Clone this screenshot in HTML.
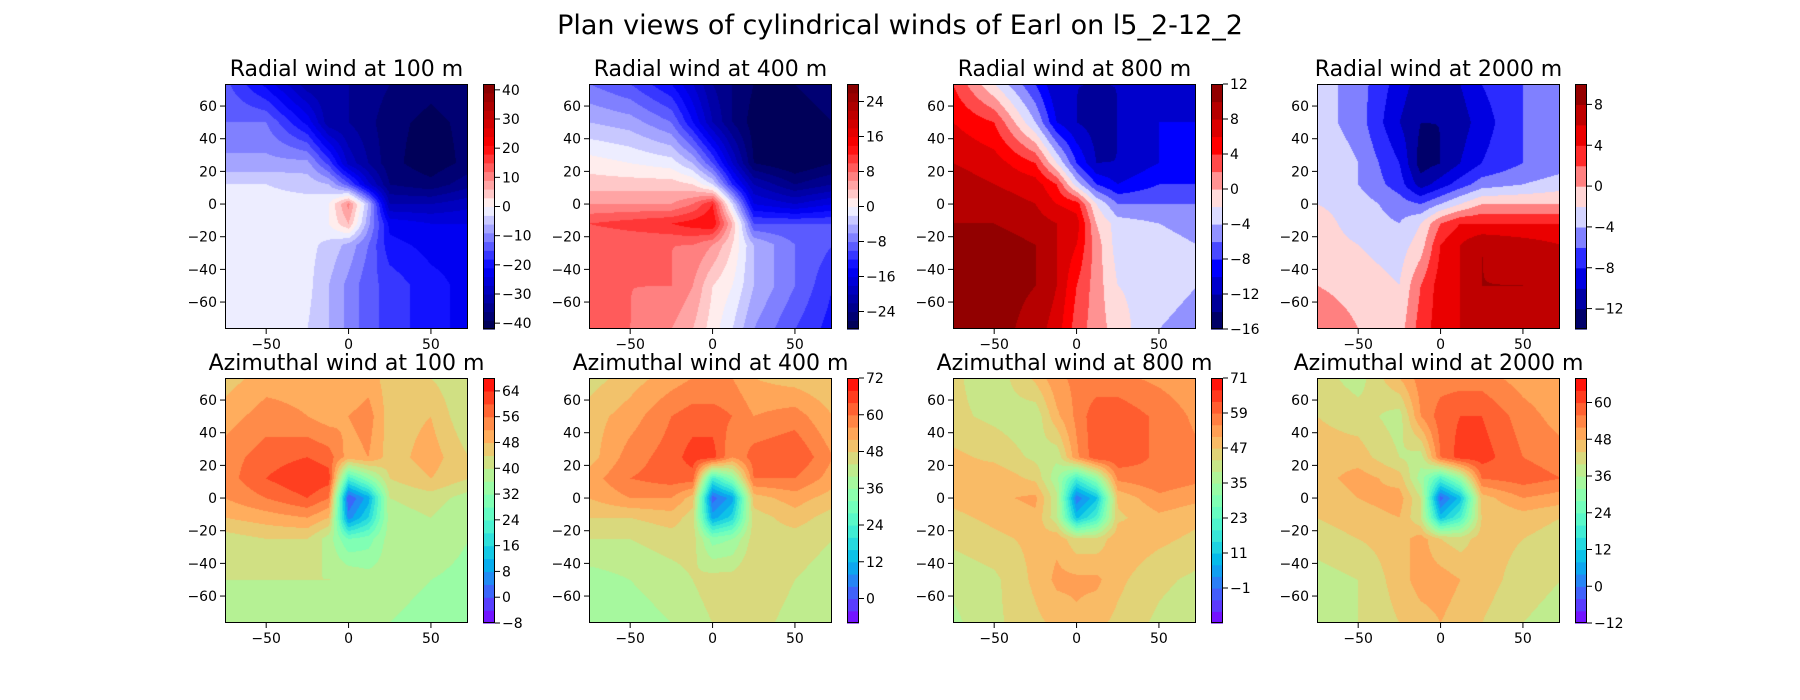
<!DOCTYPE html>
<html><head><meta charset="utf-8">
<style>
html,body{margin:0;padding:0;background:#fff;}
#wrap{position:relative;width:1800px;height:700px;overflow:hidden;font-family:"DejaVu Sans","Liberation Sans",sans-serif;}
canvas{position:absolute;}
svg{position:absolute;left:0;top:0;}
</style></head>
<body>
<div id="wrap">
<svg id="svg" width="1800" height="700">
<text x="900" y="34" text-anchor="middle" font-size="27" fill="#000">Plan views of cylindrical winds of Earl on l5_2-12_2</text>
</svg>
</div>
<script>
// grid coordinates (data units)
const gridX = [-75,-50,-25,-12,0,12,25,50,73];
const gridY = [73.5,50,25,12,0,-12,-25,-50,-76.5];
const xTicks = [-50,0,50];
const yTicks = [-60,-40,-20,0,20,40,60];
const titles = ["Radial wind at 100 m","Radial wind at 400 m","Radial wind at 800 m","Radial wind at 2000 m",
  "Azimuthal wind at 100 m","Azimuthal wind at 400 m","Azimuthal wind at 800 m","Azimuthal wind at 2000 m"];
const R1 = [
[-14,-22,-32,-33,-33,-34,-36,-38,-36],
[-12,-12,-22,-32,-33,-35,-38,-40,-38],
[-8,-8,-8,-16,-28,-33,-38,-41,-38],
[-3,-3,-4,-6,-14,-26,-36,-38,-34],
[-2,-2,-2,0,10,-6,-30,-30,-28],
[-2,-2,-2,0,6,-8,-22,-24,-24],
[-2,-2,-2,-4,-7,-12,-20,-22,-22],
[-2,-2,-2,-6,-10,-14,-16,-20,-22],
[-2,-2,-3,-6,-10,-14,-16,-20,-22]];
const R2 = [
[-8,-10,-14,-18,-22,-24,-26,-26,-24],
[-4,-5,-8,-14,-20,-24,-27,-28,-26],
[1,0,-1,-4,-10,-18,-26,-28,-26],
[3,3,3,2,-2,-12,-20,-24,-22],
[6,6,6,8,12,-2,-16,-18,-16],
[10,11,12,13,14,4,-10,-10,-10],
[8,8,8,8,6,2,-4,-8,-10],
[8,8,8,6,2,0,-4,-8,-12],
[8,8,6,4,1,-2,-6,-10,-13]];
const R3 = [
[4,-2,-8,-12,-12,-12,-12,-11,-11],
[6,4,-4,-10,-12,-13,-12,-10,-10],
[8,7,4,-2,-8,-12,-12,-10,-9],
[9,8,7,4,-3,-8,-10,-8,-8],
[9,9,8,6,5,-2,-6,-6,-6],
[10,10,9,8,7,0,-3,-4,-5],
[10,11,10,8,6,1,-3,-3,-4],
[10,11,10,8,4,1,-2,-3,-4],
[10,11,9,7,3,1,-1,-4,-5]];
const R4 = [
[-3,-5,-9,-11,-11,-10,-8,-6,-6],
[-3,-5,-10,-12,-12,-11,-9,-6,-6],
[-2,-4,-8,-13,-12,-10,-8,-6,-5],
[-2,-4,-7,-11,-9,-7,-5,-4,-3],
[-2,-3,-5,-6,-4,-2,0,0,0],
[-1,-3,-4,-2,2,4,4,4,4],
[-1,-2,-3,-1,4,6,8,7,6],
[0,-1,-2,2,5,6,8,8,6],
[2,0,-1,3,5,6,6,7,6]];
const A1 = [
[46,50,50,48,48,50,46,44,40],
[50,54,52,50,52,54,46,48,40],
[54,58,60,58,50,52,46,50,44],
[54,60,64,62,22,32,44,48,44],
[52,56,60,56,0,10,40,42,38],
[48,50,52,48,6,16,38,40,36],
[42,44,44,38,28,30,38,40,36],
[40,40,40,40,40,38,38,36,34],
[36,38,38,38,38,38,36,34,32]];
const A2 = [
[46,50,54,56,56,56,52,50,48],
[50,54,60,62,62,60,56,58,52],
[50,58,62,66,66,56,62,64,56],
[54,60,62,62,22,34,60,60,54],
[52,56,56,50,2,10,50,54,50],
[48,48,50,46,10,18,46,50,46],
[44,44,46,46,34,36,46,46,44],
[38,40,42,44,46,46,48,44,42],
[38,38,40,42,44,44,46,42,40]];
const A3 = [
[44,40,48,54,56,56,56,54,52],
[44,42,40,50,56,62,62,58,54],
[48,46,42,40,54,62,62,58,56],
[48,50,46,36,20,32,56,58,56],
[48,50,52,40,0,10,48,54,52],
[46,48,50,40,10,20,46,50,48],
[44,46,48,50,44,44,50,48,46],
[40,42,48,52,52,52,48,44,42],
[38,42,46,48,50,48,46,42,40]];
const A4 = [
[42,38,48,54,54,54,54,50,48],
[44,42,38,52,58,60,60,54,50],
[46,46,40,38,56,62,62,56,54],
[46,50,46,34,20,32,56,58,56],
[44,48,50,40,-2,10,46,52,50],
[44,46,48,40,10,20,44,46,44],
[42,44,46,50,44,42,46,44,42],
[38,40,46,50,50,48,46,42,40],
[36,40,44,46,48,46,44,40,38]];
const fields = [R1,R2,R3,R4,A1,A2,A3,A4];
const levelMin = [-42,-28,-16,-14,-8,-8,-13,-12];
const levelMax = [42,28,12,10,68,72,71,68];
const levelStep = [3,2,2,2,4,4,4,4];
const cbTicks = [
[-40,-30,-20,-10,0,10,20,30,40],
[-24,-16,-8,0,8,16,24],
[-16,-12,-8,-4,0,4,8,12],
[-12,-8,-4,0,4,8],
[-8,0,8,16,24,32,40,48,56,64],
[0,12,24,36,48,60,72],
[-1,11,23,35,47,59,71],
[-12,0,12,24,36,48,60]];

const XMIN=-75, XMAX=72.5, YMIN=-76.5, YMAX=73.5;
const PW=243, PH=245;
const lefts=[225,589,953,1317], tops=[84,378];
const NS="http://www.w3.org/2000/svg";
const svg=document.getElementById('svg');
const wrap=document.getElementById('wrap');

function seismic(t){
  const st=[[0,0,0,0.3],[0.25,0,0,1],[0.5,1,1,1],[0.75,1,0,0],[1,0.5,0,0]];
  t=Math.max(0,Math.min(1,t));
  for(let i=0;i<4;i++){ if(t<=st[i+1][0]){ const f=(t-st[i][0])/(st[i+1][0]-st[i][0]);
    return [0,1,2].map(k=>Math.round(255*(st[i][k+1]+f*(st[i+1][k+1]-st[i][k+1])))); } }
  return [128,0,0];
}
function rainbow(t){
  t=Math.max(0,Math.min(1,t));
  const r=Math.min(1,Math.abs(2*t-0.5)), g=Math.sin(Math.PI*t), b=Math.cos(Math.PI*t/2);
  return [r,g,b].map(v=>Math.round(255*Math.max(0,Math.min(1,v))));
}
function interp(F,x,y){
  let i=0; while(i<gridX.length-2 && x>gridX[i+1]) i++;
  let j=0; while(j<gridY.length-2 && y<gridY[j+1]) j++;
  let fx=(x-gridX[i])/(gridX[i+1]-gridX[i]); fx=Math.max(0,Math.min(1,fx));
  let fy=(gridY[j]-y)/(gridY[j]-gridY[j+1]); fy=Math.max(0,Math.min(1,fy));
  const a=F[j][i],b=F[j][i+1],c=F[j+1][i],d=F[j+1][i+1];
  return a*(1-fx)*(1-fy)+b*fx*(1-fy)+c*(1-fx)*fy+d*fx*fy;
}
function sx(v,L){return L+(v-XMIN)/(XMAX-XMIN)*PW;}
function sy(v,T){return T+(YMAX-v)/(YMAX-YMIN)*PH;}
function mk(tag,attrs){const e=document.createElementNS(NS,tag);for(const k in attrs)e.setAttribute(k,attrs[k]);svg.appendChild(e);return e;}
function fmt(v){return v<0?'\u2212'+Math.abs(v):String(v);}

for(let p=0;p<8;p++){
  const L=lefts[p%4], T=tops[Math.floor(p/4)];
  const F=fields[p], lo=levelMin[p], hi=levelMax[p], st=levelStep[p];
  const nb=Math.round((hi-lo)/st);
  const cmap = p<4 ? seismic : rainbow;
  const bandColor = k => cmap((k+0.5)/nb);
  const cv=document.createElement('canvas');
  cv.width=PW; cv.height=PH; cv.style.left=L+'px'; cv.style.top=T+'px';
  
  
  wrap.insertBefore(cv,svg);
  const ctx=cv.getContext('2d'); const img=ctx.createImageData(PW,PH);
  for(let py=0;py<PH;py++){ const y=YMAX-(py+0.5)/PH*(YMAX-YMIN);
    for(let px=0;px<PW;px++){ const x=XMIN+(px+0.5)/PW*(XMAX-XMIN);
      const v=interp(F,x,y)+0.013; let k=Math.floor((v-lo)/st); k=Math.max(0,Math.min(nb-1,k));
      const c=bandColor(k); const o=(py*PW+px)*4; img.data[o]=c[0];img.data[o+1]=c[1];img.data[o+2]=c[2];img.data[o+3]=255; } }
  ctx.putImageData(img,0,0);
  const fr=mk('rect',{x:L+0.5,y:T+0.5,width:PW-1,height:PH-1,fill:'none',stroke:'#000','stroke-width':1});
  
  
  const tt=mk('text',{x:L+PW/2,y:T-8,'text-anchor':'middle','font-size':22,fill:'#000'}); tt.textContent=titles[p];
  
  
  xTicks.forEach(v=>{ const X=sx(v,L);
    const l=mk('line',{x1:X,x2:X,y1:T+PH,y2:T+PH+5,stroke:'#000','stroke-width':1});
    
    
    const t=mk('text',{x:X,y:T+PH+20,'text-anchor':'middle','font-size':14,fill:'#000'}); t.textContent=fmt(v);
    
    
  });
  yTicks.forEach(v=>{ const Y=sy(v,T);
    const l=mk('line',{x1:L-5,x2:L,y1:Y,y2:Y,stroke:'#000','stroke-width':1});
    
    
    const t=mk('text',{x:L-8,y:Y+5,'text-anchor':'end','font-size':14,fill:'#000'}); t.textContent=fmt(v);
    
    
  });
  const CL=L+258, CW=12;
  const cyv=v=>T+PH-(v-lo)/(hi-lo)*PH;
  for(let k=0;k<nb;k++){ const c=bandColor(k);
    const y1=cyv(lo+(k+1)*st), y2=cyv(lo+k*st);
    const r=mk('rect',{x:CL,y:y1,width:CW,height:(y2-y1)+0.6,fill:'rgb('+c.join(',')+')'});
    
    
  }
  const cf=mk('rect',{x:CL+0.5,y:T+0.5,width:CW-1,height:PH-1,fill:'none',stroke:'#000','stroke-width':1});
  
  
  cbTicks[p].forEach(v=>{ const Y=cyv(v);
    const l=mk('line',{x1:CL+CW,x2:CL+CW+5,y1:Y,y2:Y,stroke:'#000','stroke-width':1});
    
    
    const t=mk('text',{x:CL+CW+7,y:Y+5,'font-size':14,fill:'#000'}); t.textContent=fmt(v);
    
    
  });
}
</script>
</body></html>
